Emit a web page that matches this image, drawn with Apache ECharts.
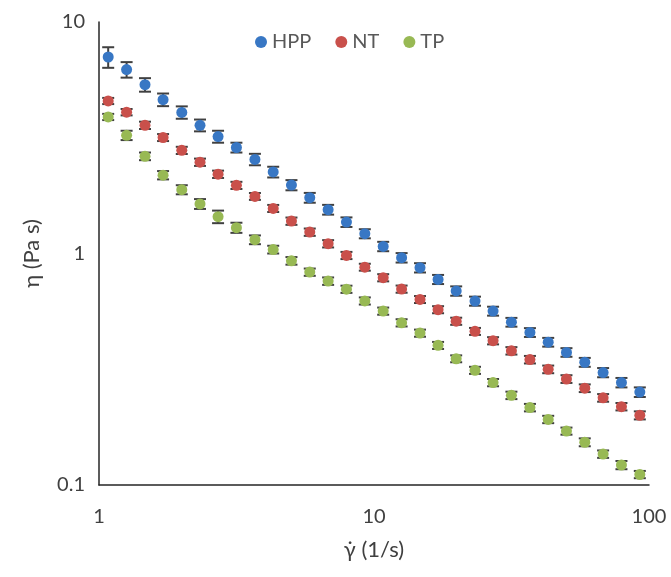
<!DOCTYPE html>
<html>
<head>
<meta charset="utf-8">
<script src="https://cdn.jsdelivr.net/npm/echarts@6/dist/echarts.min.js"></script>
<style>
  html, body { margin: 0; padding: 0; background: #fff; }
  #main { width: 671px; height: 577px; }
</style>
</head>
<body>
<div id="main"></div>
<script>
// shear rate (1/s)
var shearRate = [1.08, 1.26, 1.47, 1.71, 2.0, 2.33, 2.71, 3.16, 3.69, 4.3,
  5.01, 5.84, 6.81, 7.94, 9.26, 10.8, 12.6, 14.7, 17.1, 19.9,
  23.3, 27.1, 31.6, 36.9, 43.0, 50.1, 58.4, 68.1, 79.4, 92.6];

// viscosity (Pa s)
var hpp = [7.06, 6.23, 5.36, 4.62, 4.07, 3.58, 3.20, 2.87, 2.55, 2.25,
  1.975, 1.742, 1.547, 1.367, 1.218, 1.073, 0.959, 0.868, 0.773, 0.689,
  0.623, 0.564, 0.505, 0.456, 0.414, 0.374, 0.339, 0.306, 0.277, 0.252];
var nt = [4.56, 4.08, 3.58, 3.17, 2.79, 2.48, 2.20, 1.97, 1.765, 1.566,
  1.380, 1.237, 1.102, 0.981, 0.873, 0.786, 0.702, 0.633, 0.572, 0.510,
  0.461, 0.420, 0.380, 0.348, 0.316, 0.287, 0.262, 0.238, 0.218, 0.200];
var tp = [3.89, 3.24, 2.63, 2.18, 1.887, 1.638, 1.442, 1.293, 1.147, 1.040,
  0.930, 0.831, 0.760, 0.701, 0.624, 0.564, 0.502, 0.453, 0.401, 0.351,
  0.313, 0.277, 0.244, 0.216, 0.192, 0.171, 0.153, 0.136, 0.122, 0.111];

// standard deviations
var hppSd = [0.72, 0.48, 0.36, 0.29, 0.25, 0.21, 0.19, 0.14, 0.145, 0.12,
  0.10, 0.085, 0.075, 0.065, 0.055, 0.05, 0.045, 0.04, 0.035, 0.032,
  0.028, 0.025, 0.022, 0.02, 0.018, 0.016, 0.015, 0.014, 0.013, 0.012];
var ntSd = [0.14, 0.13, 0.13, 0.11, 0.10, 0.09, 0.08, 0.07, 0.06, 0.055,
  0.05, 0.045, 0.04, 0.035, 0.03, 0.028, 0.025, 0.022, 0.02, 0.018,
  0.016, 0.015, 0.014, 0.013, 0.012, 0.011, 0.01, 0.009, 0.008, 0.008];
var tpSd = [0.12, 0.15, 0.10, 0.09, 0.085, 0.08, 0.09, 0.065, 0.05, 0.04,
  0.035, 0.03, 0.028, 0.025, 0.022, 0.02, 0.018, 0.016, 0.014, 0.012,
  0.011, 0.01, 0.009, 0.008, 0.007, 0.006, 0.006, 0.005, 0.005, 0.004];

var seriesNames = ['HPP', 'NT', 'TP'];
var colors = ['#3877c4', '#c9504b', '#98b954'];
var font = 'Lato, "Open Sans", sans-serif';

function points(ys) {
  return shearRate.map(function (x, i) { return [x, ys[i]]; });
}
function bars(ys, sd) {
  return shearRate.map(function (x, i) { return [x, ys[i] - sd[i], ys[i] + sd[i]]; });
}

// error bar: vertical line with caps
function errorItem(params, api) {
  var x = api.value(0);
  var top = api.coord([x, api.value(2)]);
  var bot = api.coord([x, api.value(1)]);
  var hw = 6;
  var st = { stroke: '#404040', lineWidth: 2 };
  return {
    type: 'group',
    children: [
      { type: 'line', shape: { x1: top[0], y1: top[1], x2: bot[0], y2: bot[1] }, style: st },
      { type: 'line', shape: { x1: top[0] - hw, y1: top[1], x2: top[0] + hw, y2: top[1] }, style: st },
      { type: 'line', shape: { x1: bot[0] - hw, y1: bot[1], x2: bot[0] + hw, y2: bot[1] }, style: st }
    ]
  };
}

var allY = [hpp, nt, tp];
var allSd = [hppSd, ntSd, tpSd];
var series = [];
for (var k = 0; k < 3; k++) {
  series.push({
    name: seriesNames[k] + ' err',
    type: 'custom',
    renderItem: errorItem,
    data: bars(allY[k], allSd[k]),
    encode: { x: 0, y: [1, 2] },
    z: 1,
    silent: true
  });
}
for (var k = 0; k < 3; k++) {
  series.push({
    name: seriesNames[k],
    type: 'scatter',
    symbol: 'circle',
    symbolSize: 11,
    itemStyle: { color: colors[k], opacity: 1 },
    data: points(allY[k]),
    z: 3
  });
}

var myChart = echarts.init(document.getElementById('main'));
var option = {
  animation: false,
  backgroundColor: '#fff',
  textStyle: { fontFamily: font },
  legend: {
    data: seriesNames,
    left: 250,
    top: 27,
    icon: 'circle',
    itemWidth: 12,
    itemHeight: 12,
    itemGap: 24,
    textStyle: { color: '#595959', fontSize: 20, fontFamily: font }
  },
  grid: { left: 99, right: 22, top: 22, bottom: 92 },
  xAxis: {
    type: 'log',
    logBase: 10,
    min: 1,
    max: 100,
    name: 'γ̇ (1/s)',
    nameLocation: 'middle',
    nameGap: 54,
    nameTextStyle: { color: '#404040', fontSize: 22, fontFamily: font },
    axisLine: { lineStyle: { color: '#262626', width: 1.5 } },
    axisTick: { show: false },
    splitLine: { show: false },
    axisLabel: { color: '#404040', fontSize: 20, margin: 22, fontFamily: font }
  },
  yAxis: {
    type: 'log',
    logBase: 10,
    min: 0.1,
    max: 10,
    name: 'η (Pa s)',
    nameLocation: 'middle',
    nameGap: 56,
    nameTextStyle: { color: '#404040', fontSize: 22, fontFamily: font },
    axisLine: { show: true, lineStyle: { color: '#262626', width: 1.5 } },
    axisTick: { show: false },
    splitLine: { show: false },
    axisLabel: { color: '#404040', fontSize: 20, margin: 14, fontFamily: font }
  },
  series: series
};
myChart.setOption(option, true);
window.onresize = function () { myChart.resize(); };
</script>
</body>
</html>
